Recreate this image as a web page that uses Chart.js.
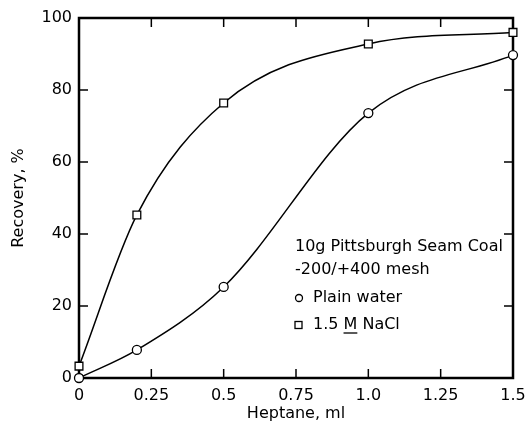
<!DOCTYPE html>
<html>
<head>
<meta charset="utf-8">
<script src="https://cdn.jsdelivr.net/npm/chart.js@4"></script>
<style>
  html, body { margin: 0; padding: 0; background: #fff; }
  #wrap { width: 526px; height: 428px; }
</style>
</head>
<body>
<div id="wrap"><canvas id="recoveryChart"></canvas></div>
<script>
// data
const heptane = [0, 0.2, 0.5, 1.0, 1.5];
const plainWater = [0, 7.8, 25.3, 73.6, 89.7];
const nacl = [3.3, 45.3, 76.4, 92.8, 96];
const xTickLabels = ['0', '0.25', '0.5', '0.75', '1.0', '1.25', '1.5'];
const yTickLabels = ['0', '20', '40', '60', '80', '100'];
const noteLines = ['10g Pittsburgh Seam Coal', '-200/+400 mesh'];
const seriesNames = ['Plain water', '1.5 M NaCl'];

const FONT = 'DejaVu Sans';

function pts(ys) {
  return heptane.map((x, i) => ({ x: x, y: ys[i] }));
}

// frame with inward ticks on all four sides
const framePlugin = {
  id: 'frame',
  beforeDatasetsDraw(chart) {
    const { ctx, chartArea: a, scales } = chart;
    ctx.save();
    ctx.strokeStyle = '#000';
    ctx.lineWidth = 2.5;
    ctx.strokeRect(a.left, a.top, a.right - a.left, a.bottom - a.top);
    ctx.lineWidth = 1.5;
    const len = 9;
    scales.x.ticks.forEach(t => {
      if (t.value <= 0 || t.value >= 1.5) return;
      const px = scales.x.getPixelForValue(t.value);
      ctx.beginPath();
      ctx.moveTo(px, a.bottom); ctx.lineTo(px, a.bottom - len);
      ctx.moveTo(px, a.top); ctx.lineTo(px, a.top + len);
      ctx.stroke();
    });
    scales.y.ticks.forEach(t => {
      if (t.value <= 0 || t.value >= 100) return;
      const py = scales.y.getPixelForValue(t.value);
      ctx.beginPath();
      ctx.moveTo(a.left, py); ctx.lineTo(a.left + len, py);
      ctx.moveTo(a.right, py); ctx.lineTo(a.right - len, py);
      ctx.stroke();
    });
    ctx.restore();
  }
};

// text block and symbol key inside the plot
const notePlugin = {
  id: 'note',
  afterDraw(chart) {
    const { ctx, chartArea: a } = chart;
    const x0 = a.left + 216;
    ctx.save();
    ctx.fillStyle = '#000';
    ctx.strokeStyle = '#000';
    ctx.font = '16px "' + FONT + '"';
    ctx.textBaseline = 'middle';
    ctx.fillText(noteLines[0], x0, a.top + 229);
    ctx.fillText(noteLines[1], x0, a.top + 252);

    ctx.lineWidth = 1.3;
    // circle key
    let y = a.top + 280;
    ctx.beginPath();
    ctx.arc(x0 + 4, y, 3.5, 0, Math.PI * 2);
    ctx.stroke();
    ctx.fillText(seriesNames[0], x0 + 18, y);
    // square key
    y = a.top + 307;
    ctx.strokeRect(x0, y - 3.5, 7, 7);
    ctx.fillText(seriesNames[1], x0 + 18, y);
    // underline the M
    const pre = ctx.measureText('1.5 ').width;
    const mw = ctx.measureText('M').width;
    ctx.beginPath();
    ctx.moveTo(x0 + 18 + pre, y + 8);
    ctx.lineTo(x0 + 18 + pre + mw, y + 8);
    ctx.stroke();
    ctx.restore();
  }
};

new Chart(document.getElementById('recoveryChart'), {
  type: 'scatter',
  data: {
    datasets: [{
      label: seriesNames[0],
      data: pts(plainWater),
      showLine: true,
      cubicInterpolationMode: 'monotone',
      borderColor: '#000',
      borderWidth: 1.5,
      pointStyle: 'circle',
      pointRadius: 4.5,
      pointBorderWidth: 1.3,
      pointBackgroundColor: '#fff',
      pointBorderColor: '#000',
      clip: false
    }, {
      label: seriesNames[1],
      data: pts(nacl),
      showLine: true,
      cubicInterpolationMode: 'monotone',
      borderColor: '#000',
      borderWidth: 1.5,
      pointStyle: 'rect',
      pointRadius: 5.5,
      pointBorderWidth: 1.3,
      pointBackgroundColor: '#fff',
      pointBorderColor: '#000',
      clip: false
    }]
  },
  options: {
    responsive: true,
    maintainAspectRatio: false,
    animation: false,
    layout: { padding: { top: 18, right: 13, left: 0, bottom: 0 } },
    plugins: {
      legend: { display: false },
      tooltip: { enabled: false }
    },
    scales: {
      x: {
        type: 'linear',
        min: 0,
        max: 1.5,
        grid: { display: false, drawTicks: false },
        border: { display: false },
        ticks: {
          stepSize: 0.25,
          padding: 8,
          color: '#000',
          font: { family: FONT, size: 16 },
          maxRotation: 0,
          callback: (v, i) => xTickLabels[i]
        },
        title: {
          display: true,
          text: 'Heptane, ml',
          color: '#000',
          font: { family: FONT, size: 16 },
          padding: { top: 0, bottom: 5 }
        },
        afterFit: s => { s.height = 50; s.paddingLeft = 0; s.paddingRight = 0; }
      },
      y: {
        min: 0,
        max: 100,
        grid: { display: false, drawTicks: false },
        border: { display: false },
        ticks: {
          stepSize: 20,
          padding: 7,
          color: '#000',
          font: { family: FONT, size: 16 },
          callback: (v, i) => yTickLabels[i]
        },
        title: {
          display: true,
          text: 'Recovery, %',
          color: '#000',
          font: { family: FONT, size: 16 },
          padding: { top: 9, bottom: 0 }
        },
        afterFit: s => { s.width = 79; s.paddingTop = 0; s.paddingBottom = 0; }
      }
    }
  },
  plugins: [framePlugin, notePlugin]
});
</script>
</body>
</html>
